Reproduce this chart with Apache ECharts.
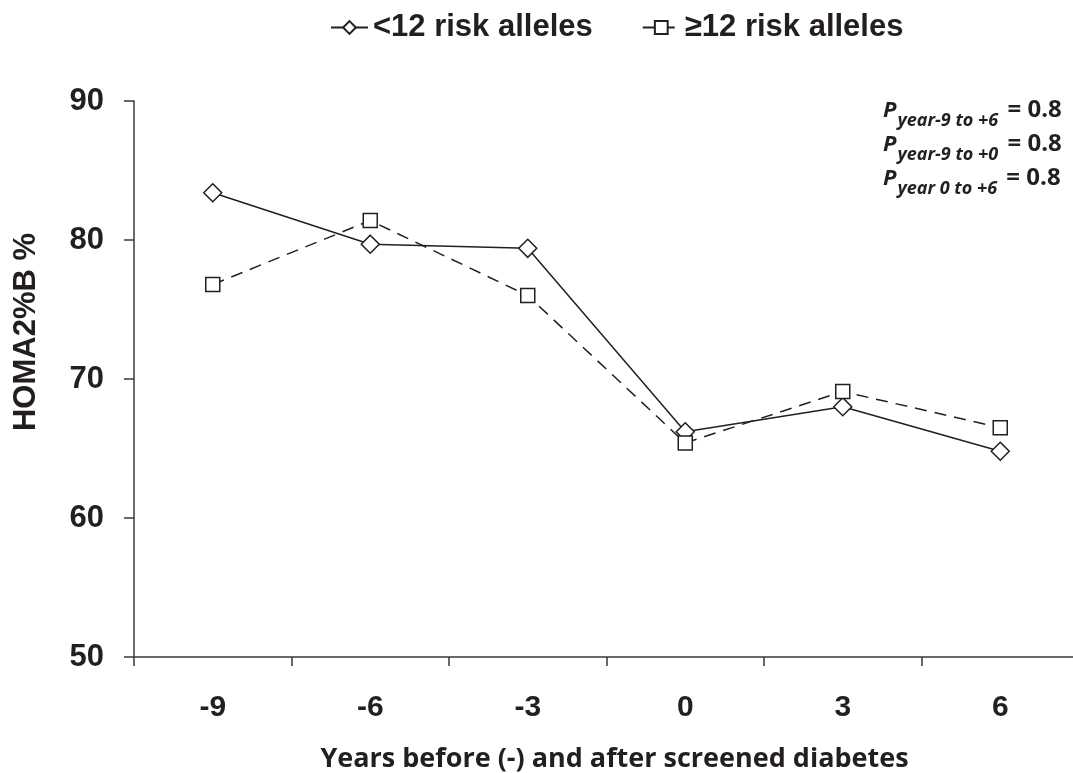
<!DOCTYPE html>
<html>
<head>
<meta charset="utf-8">
<script src="https://cdn.jsdelivr.net/npm/echarts@6/dist/echarts.min.js"></script>
<style>
html,body{margin:0;padding:0;background:#fff;overflow:hidden;}
#chart{width:1073px;height:773px;}
</style>
</head>
<body>
<div id="chart"></div>
<script>
// ---- data ----
const years = ['-9', '-6', '-3', '0', '3', '6'];
const seriesNames = ['<12 risk alleles', '\u226512 risk alleles'];
const lessThan12 = [83.4, 79.7, 79.4, 66.2, 68.0, 64.8];
const atLeast12 = [76.8, 81.4, 76.0, 65.4, 69.1, 66.5];
const yTicks = { min: 50, max: 90, interval: 10 };
const pLines = [
  ['year-9 to +6', '= 0.8'],
  ['year-9 to +0', '= 0.8'],
  ['year 0 to +6', '= 0.8']
];
const xTitle = 'Years before (-) and after screened diabetes';
const yTitle = 'HOMA2%B %';

const ink = '#231f20';
const axisColor = '#3a3a3a';

const chart = echarts.init(document.getElementById('chart'), null, { renderer: 'canvas' });

const pTexts = pLines.map(function (l, i) {
  return {
    type: 'text',
    left: 883,
    top: 98 + i * 34,
    z: 10,
    style: {
      text: '{p|P}{s|' + l[0] + '}{e| ' + l[1] + '}',
      rich: {
        p: { fontFamily: 'Open Sans', fontWeight: 'bold', fontStyle: 'italic', fontSize: 22, lineHeight: 22, padding: [0, 1, 8, 0], verticalAlign: 'bottom', fill: ink },
        s: { fontFamily: 'Open Sans', fontWeight: 'bold', fontStyle: 'italic', fontSize: 18, lineHeight: 18, padding: [0, 0, 0, 0], verticalAlign: 'bottom', fill: ink },
        e: { fontFamily: 'Open Sans', fontWeight: 'bold', fontSize: 24, lineHeight: 24, padding: [0, 0, 8, 3], verticalAlign: 'bottom', fill: ink }
      }
    }
  };
});

const option = {
  backgroundColor: '#fff',
  animation: false,
  legend: {
    data: seriesNames,
    left: 330,
    top: 12,
    padding: 0,
    itemWidth: 37,
    itemHeight: 16,
    itemGap: 49,
    textStyle: { fontFamily: 'Liberation Sans', fontWeight: 'bold', fontSize: 31, color: ink }
  },
  grid: { left: 134, top: 101, width: 945, height: 556, outerBoundsMode: 'none', containLabel: false },
  xAxis: {
    type: 'category',
    data: years,
    boundaryGap: true,
    name: xTitle,
    nameLocation: 'middle',
    nameGap: 89,
    nameTextStyle: { fontFamily: 'Open Sans', fontWeight: 'bold', fontSize: 27, color: ink, padding: [0, 0, 0, 16] },
    axisLine: { show: true, lineStyle: { color: axisColor, width: 1.5 } },
    axisTick: { show: true, length: 9, inside: false, lineStyle: { color: axisColor, width: 1.5 } },
    axisLabel: { margin: 36, fontFamily: 'Liberation Sans', fontWeight: 'bold', fontSize: 30, color: ink },
    splitLine: { show: false }
  },
  yAxis: {
    type: 'value',
    min: yTicks.min,
    max: yTicks.max,
    interval: yTicks.interval,
    name: yTitle,
    nameLocation: 'middle',
    nameRotate: 90,
    nameGap: 92,
    nameTextStyle: { fontFamily: 'Liberation Sans', fontWeight: 'bold', fontSize: 31, color: ink, padding: [0, 0, 0, 94] },
    axisLine: { show: true, lineStyle: { color: axisColor, width: 1.5 } },
    axisTick: { show: true, length: 10, inside: false, lineStyle: { color: axisColor, width: 1.5 } },
    axisLabel: { margin: 30, fontFamily: 'Liberation Sans', fontWeight: 'bold', fontSize: 31, color: ink },
    splitLine: { show: false }
  },
  series: [
    {
      name: seriesNames[0],
      type: 'line',
      data: lessThan12,
      symbol: 'diamond',
      symbolSize: 18,
      showAllSymbol: true,
      lineStyle: { color: ink, width: 1.5, type: 'solid' },
      itemStyle: { color: '#fff', borderColor: ink, borderWidth: 1.5 },
      emphasis: { disabled: true }
    },
    {
      name: seriesNames[1],
      type: 'line',
      data: atLeast12,
      symbol: 'rect',
      symbolSize: 14,
      showAllSymbol: true,
      lineStyle: { color: ink, width: 1.5, type: [12, 8] },
      itemStyle: { color: '#fff', borderColor: ink, borderWidth: 1.5 },
      emphasis: { disabled: true }
    }
  ],
  graphic: pTexts
};

chart.setOption(option);
</script>
</body>
</html>
